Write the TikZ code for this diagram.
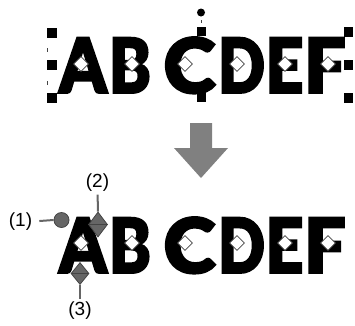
\documentclass[tikz,border=0pt]{standalone}
\usepackage{fontspec}
\setmainfont{Liberation Sans}
\IfFontExistsTF{Lato Black}{\newfontfamily\heavy{Lato Black}[FakeBold=2.5]}{\newfontfamily\heavy{DejaVu Sans Bold}[FakeBold=2.5]}
\usetikzlibrary{shapes.geometric}
\definecolor{mgray}{HTML}{666666}
\definecolor{dgray}{HTML}{444444}
\newsavebox\fitbox
\newcommand\fitw[2]{\sbox\fitbox{#2}\pgfmathsetmacro\fitsx{#1/\the\wd\fitbox}\scalebox{\fitsx}[1]{\usebox\fitbox}}
\begin{document}
\begin{tikzpicture}[x=1pt,y=-1pt,
  letter/.style={font=\heavy\fontsize{76}{76}\selectfont, anchor=base, inner sep=0pt},
  handle/.style={rectangle, fill=black, minimum size=9.5pt, inner sep=0pt},
  wdmd/.style={diamond, draw=dgray, fill=white, line width=0.7pt, minimum width=15pt, minimum height=15pt, inner sep=0pt},
  gdmd/.style={diamond, draw=dgray, fill=mgray, line width=0.8pt, inner sep=0pt},
  lbl/.style={font=\fontsize{19}{19}\selectfont, inner sep=0pt},
  gline/.style={draw=mgray, line width=2pt},
  frame/.style={draw=dgray, line width=0.8pt}
]
\useasboundingbox (0,0) rectangle (355,325);

% ---- top row ----
\node[letter] (tA) at (83,93) {\fitw{48}{A}};
\node[letter] (tB) at (130,93) {\fitw{42}{B}};
\node[letter] (tC) at (189.5,93) {\fitw{52}{C}};
\node[letter] (tD) at (241.5,93) {\fitw{47}{D}};
\node[letter] (tE) at (284.5,93) {\fitw{38}{E}};
\node[letter] (tF) at (325,93) {\fitw{42}{F}};

\foreach \n/\x in {A/81,B/132,C/185,D/237,E/285,F/328}
  \node[wdmd] (td\n) at (\x,64) {};

% selection handles
\node[handle] (h11) at (52,33) {};
\node[handle] (h12) at (52,65) {};
\node[handle] (h13) at (52,98) {};
\node[handle] (h21) at (201.5,31.5) {};
\node[handle] (h23) at (201.5,97) {};
\node[handle] (h31) at (348.5,32) {};
\node[handle] (h32) at (348.5,65) {};
\node[handle] (h33) at (348.5,98) {};
\node[circle, fill=black, minimum size=8pt, inner sep=0pt] (rot) at (201,12.5) {};

% dashed frame fragments
\draw[frame] (47,48) -- (47,52);
\draw[frame] (47,81) -- (47,85);
\draw[frame] (201.5,20) -- (201.5,23);

% ---- arrow ----
\fill[gray] (190,123) -- (212,123) -- (212,148) -- (228,148) -- (201,178)
  -- (174,148) -- (190,148) -- cycle;

% ---- bottom row ----
\node[letter] (bA) at (83,273) {\fitw{48}{A}};
\node[letter] (bB) at (130,273) {\fitw{42}{B}};
\node[letter] (bC) at (189.5,273) {\fitw{52}{C}};
\node[letter] (bD) at (241.5,273) {\fitw{47}{D}};
\node[letter] (bE) at (284.5,273) {\fitw{38}{E}};
\node[letter] (bF) at (325,273) {\fitw{42}{F}};

\foreach \n/\x in {A/81,B/132,C/185,D/237,E/285,F/328}
  \node[wdmd] (bd\n) at (\x,243) {};

% annotation markers
\node[circle, draw=dgray, fill=mgray, line width=0.8pt, minimum size=15pt, inner sep=0pt] (c1) at (61.5,220) {};
\node[gdmd, minimum width=19pt, minimum height=25pt] (d2) at (98,224.5) {};
\draw[dgray, line width=0.8pt] (d2.west) -- (d2.east);
\node[gdmd, minimum width=18pt, minimum height=22pt] (d3) at (80,273.5) {};
\draw[dgray, line width=0.8pt] (d3.west) -- (d3.east);

% labels
\node[lbl] (l1) at (20.5,221.5) {(1)};
\node[lbl] (l2) at (97.5,182.5) {(2)};
\node[lbl] (l3) at (80,311) {(3)};

\draw[gline, shorten <=7pt] (l1.east) -- (c1.west);
\draw[gline, shorten <=3pt] (l2.south) -- (d2.north);
\draw[gline, shorten >=3pt] (d3.south) -- (l3.north);
\end{tikzpicture}
\end{document}
